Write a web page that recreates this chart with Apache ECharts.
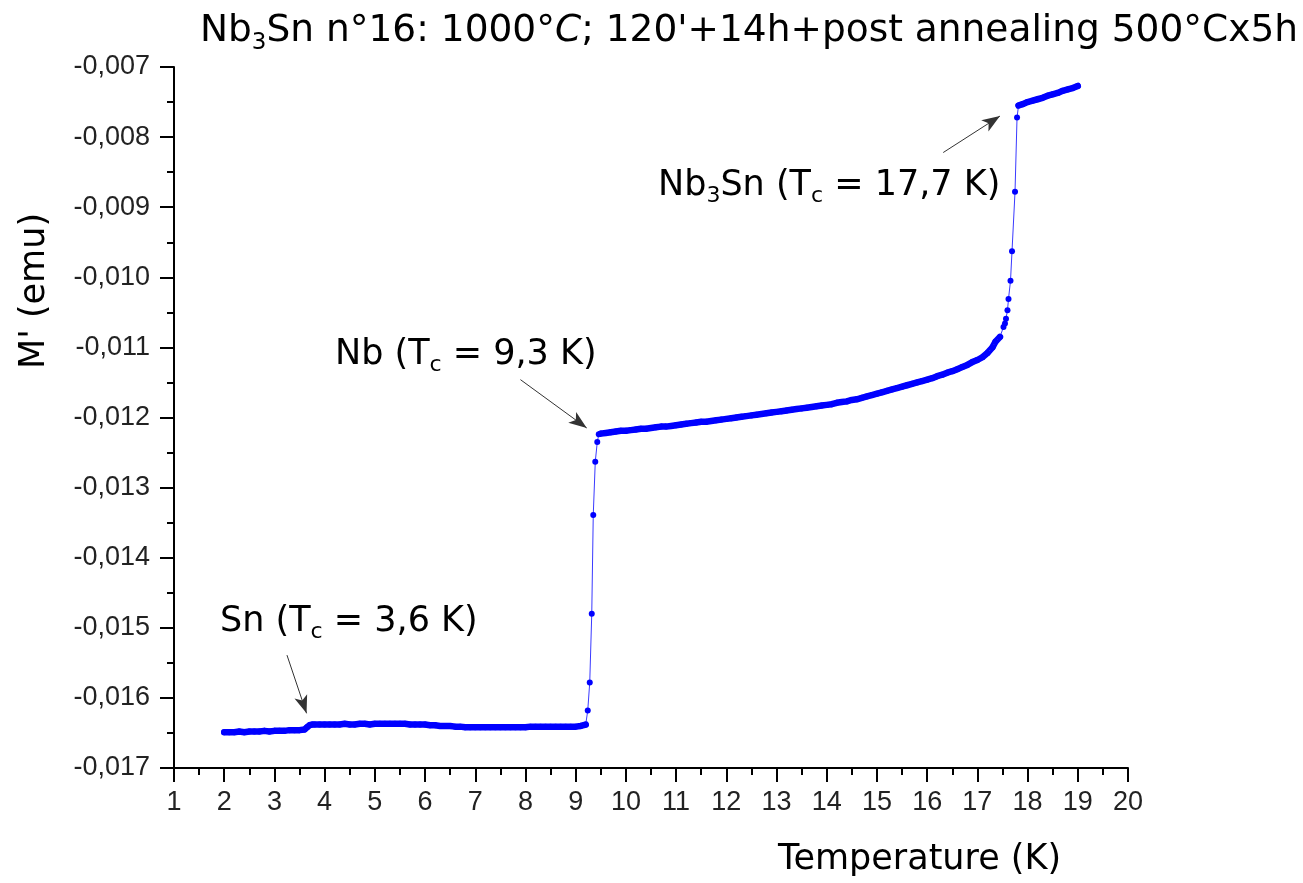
<!DOCTYPE html>
<html>
<head>
<meta charset="utf-8">
<script src="https://cdn.jsdelivr.net/npm/echarts@6/dist/echarts.min.js"></script>
<style>
html,body{margin:0;padding:0;background:#fff;}
#chart{width:1303px;height:883px;}
</style>
</head>
<body>
<div id="chart"></div>
<script>
// ---- data (Temperature K, M' emu) ----
const snPlateau = [
  [2.0,-0.01649],[2.1,-0.01649],[2.2,-0.01649],[2.3,-0.01648],[2.4,-0.01649],[2.5,-0.01648],
  [2.6,-0.01648],[2.7,-0.01648],[2.8,-0.01647],[2.9,-0.01648],[3.0,-0.01647],[3.1,-0.01647],
  [3.2,-0.01647],[3.3,-0.01646],[3.4,-0.01646],[3.5,-0.01646],[3.6,-0.01645],[3.65,-0.01642],
  [3.7,-0.01639],[3.75,-0.01638]
];
const lowPlateau = [
  [3.8,-0.01638],[3.9,-0.01638],[4.0,-0.01638],[4.1,-0.01638],[4.2,-0.01638],[4.3,-0.01638],
  [4.4,-0.01637],[4.5,-0.01638],[4.6,-0.01638],[4.7,-0.01637],[4.8,-0.01637],[4.9,-0.01638],
  [5.0,-0.01637],[5.1,-0.01637],[5.2,-0.01637],[5.3,-0.01637],[5.4,-0.01637],[5.5,-0.01637],
  [5.6,-0.01637],[5.7,-0.01638],[5.8,-0.01638],[5.9,-0.01638],[6.0,-0.01638],[6.1,-0.01639],
  [6.2,-0.01639],[6.3,-0.01640],[6.4,-0.01640],[6.5,-0.01640],[6.6,-0.01641],[6.7,-0.01641],
  [6.8,-0.01642],[6.9,-0.01642],[7.0,-0.01642],[7.1,-0.01642],[7.2,-0.01642],[7.3,-0.01642],
  [7.4,-0.01642],[7.5,-0.01642],[7.6,-0.01642],[7.7,-0.01642],[7.8,-0.01642],[7.9,-0.01642],
  [8.0,-0.01642],[8.1,-0.01641],[8.2,-0.01641],[8.3,-0.01641],[8.4,-0.01641],[8.5,-0.01641],
  [8.6,-0.01641],[8.7,-0.01641],[8.8,-0.01641],[8.9,-0.01641],[9.0,-0.01641],[9.1,-0.01640],
  [9.2,-0.01638]
];
const nbTransition = [
  [9.24,-0.01618],[9.28,-0.01578],[9.32,-0.01480],[9.35,-0.01339],[9.39,-0.01263],
  [9.43,-0.01235],[9.46,-0.01224]
];
const midPlateau = [
  [9.5,-0.01223],[9.6,-0.01222],[9.7,-0.01221],[9.8,-0.01220],[9.9,-0.01219],[10.0,-0.01219],
  [10.1,-0.01218],[10.2,-0.01217],[10.3,-0.01216],[10.4,-0.01216],[10.5,-0.01215],[10.6,-0.01214],
  [10.7,-0.01213],[10.8,-0.01213],[10.9,-0.01212],[11.0,-0.01211],[11.1,-0.01210],[11.2,-0.01209],
  [11.3,-0.01208],[11.4,-0.01207],[11.5,-0.01206],[11.6,-0.01206],[11.7,-0.01205],[11.8,-0.01204],
  [11.9,-0.01203],[12.0,-0.01202],[12.1,-0.01201],[12.2,-0.01200],[12.3,-0.01199],[12.4,-0.01198],
  [12.5,-0.01197],[12.6,-0.01196],[12.7,-0.01195],[12.8,-0.01194],[12.9,-0.01193],[13.0,-0.01192],
  [13.1,-0.01191],[13.2,-0.01190],[13.3,-0.01189],[13.4,-0.01188],[13.5,-0.01187],[13.6,-0.01186],
  [13.7,-0.01185],[13.8,-0.01184],[13.9,-0.01183],[14.0,-0.01182],[14.1,-0.01181],[14.2,-0.01179],
  [14.3,-0.01178],[14.4,-0.01177],[14.5,-0.01175],[14.6,-0.01174],[14.7,-0.01172],[14.8,-0.01170],
  [14.9,-0.01168],[15.0,-0.01166],[15.1,-0.01164],[15.2,-0.01162],[15.3,-0.01160],[15.4,-0.01158],
  [15.5,-0.01156],[15.6,-0.01154],[15.7,-0.01152],[15.8,-0.01150],[15.9,-0.01148],[16.0,-0.01146],
  [16.1,-0.01144],[16.2,-0.01141],[16.3,-0.01139],[16.4,-0.01136],[16.5,-0.01134],[16.6,-0.01131],
  [16.7,-0.01128],[16.8,-0.01125],[16.9,-0.01121],[17.0,-0.01118],[17.1,-0.01114],[17.2,-0.01108],
  [17.3,-0.01100]
];
const nb3snTransition = [
  [17.36,-0.01092],[17.45,-0.01085],[17.52,-0.01071],[17.55,-0.01066],[17.57,-0.01059],
  [17.60,-0.01047],[17.62,-0.01031],[17.66,-0.01005],[17.69,-0.00963],[17.75,-0.00878],
  [17.79,-0.00772],[17.82,-0.00755]
];
const normalState = [
  [17.9,-0.00753],[18.0,-0.00750],[18.1,-0.00748],[18.2,-0.00746],[18.3,-0.00744],[18.4,-0.00741],
  [18.5,-0.00739],[18.6,-0.00737],[18.7,-0.00734],[18.8,-0.00732],[18.9,-0.00730],[19.0,-0.00727]
];
// annotation arrows: [start, tip] in data coordinates
const arrowSn = [[3.25,-0.01539],[3.64,-0.01622]];
const arrowNb = [[7.90,-0.01146],[9.22,-0.01215]];
const arrowNb3Sn = [[16.32,-0.00822],[17.45,-0.00770]];
const xTicks = {min:1, max:20, step:1};
const yTicks = {min:-0.017, max:-0.007, step:0.001};

const allData = [].concat(snPlateau, lowPlateau, nbTransition, midPlateau, nb3snTransition, normalState);
const bandSegments = [
  [].concat(snPlateau, lowPlateau, [[9.2,-0.01638]]),
  midPlateau.concat([[17.36,-0.01092],[17.45,-0.01085]]),
  [[17.82,-0.00755]].concat(normalState)
];

const chart = echarts.init(document.getElementById('chart'), null, {renderer:'canvas'});
const comic = 'DejaVu Sans';
const annFont = 35;
function richBase(size){
  const lh = Math.round(size*1.25);
  return {
    a:{fontFamily:comic,fontSize:size,color:'#000',lineHeight:lh},
    i:{fontFamily:comic,fontSize:size,color:'#000',lineHeight:lh,fontStyle:'italic'},
    sub:{fontFamily:comic,fontSize:Math.round(size*0.62),color:'#000',lineHeight:Math.round(size*0.6),verticalAlign:'bottom'}
  };
}
function arrowLine(a){
  return [{coord:a[0]},{coord:a[1]}];
}
const bandSeries = bandSegments.map(seg => ({
  type:'line', data:seg, showSymbol:false, symbol:'none', silent:true,
  lineStyle:{color:'#0000ff',width:6.5,cap:'round',join:'round'}, z:2
}));
const option = {
  animation:false,
  backgroundColor:'#fff',
  grid:{left:174,right:175,top:67,bottom:115,containLabel:false},
  xAxis:{
    type:'value', min:xTicks.min, max:xTicks.max, interval:xTicks.step,
    axisLine:{show:true,onZero:false,lineStyle:{color:'#000',width:2}},
    axisTick:{show:true,inside:false,length:14,lineStyle:{color:'#000',width:2}},
    minorTick:{show:true,splitNumber:2,length:7,lineStyle:{color:'#000',width:2}},
    splitLine:{show:false},
    axisLabel:{fontFamily:'Liberation Sans',fontSize:27,color:'#222',margin:21,
      formatter:v=>String(Math.round(v))}
  },
  yAxis:{
    type:'value', min:yTicks.min, max:yTicks.max, interval:yTicks.step,
    axisLine:{show:true,onZero:false,lineStyle:{color:'#000',width:2}},
    axisTick:{show:true,inside:false,length:14,lineStyle:{color:'#000',width:2}},
    minorTick:{show:true,splitNumber:2,length:7,lineStyle:{color:'#000',width:2}},
    splitLine:{show:false},
    axisLabel:{fontFamily:'Liberation Sans',fontSize:27,color:'#222',margin:24,
      formatter:v=>v.toFixed(3).replace('.',',')}
  },
  series:[{
    type:'line',
    data:allData,
    symbol:'circle', symbolSize:6, showSymbol:true,
    itemStyle:{color:'#0000ff'},
    lineStyle:{color:'#3a3aff',width:1},
    z:3,
    markLine:{
      silent:true,
      symbol:['none','arrow'],
      symbolSize:[10,18],
      label:{show:false},
      lineStyle:{color:'#333',width:1,type:'solid'},
      data:[arrowLine(arrowSn),arrowLine(arrowNb),arrowLine(arrowNb3Sn)]
    }
  }].concat(bandSeries),
  graphic:[
    {type:'text',left:200,top:12,style:{
      text:'{a|Nb}{sub|3}{a|Sn n°16: 1000°}{i|C}{a|; 120\'+14h+post annealing 500°Cx5h}',
      rich:richBase(37.5)}},
    {type:'text',left:658,top:168,style:{
      text:'{a|Nb}{sub|3}{a|Sn (T}{sub|c}{a| = 17,7 K)}', rich:richBase(annFont)}},
    {type:'text',left:335,top:337,style:{
      text:'{a|Nb (T}{sub|c}{a| = 9,3 K)}', rich:richBase(annFont)}},
    {type:'text',left:220,top:604,style:{
      text:'{a|Sn (T}{sub|c}{a| = 3,6 K)}', rich:richBase(annFont)}},
    {type:'text',left:778,top:842,style:{
      text:'Temperature (K)',fontFamily:comic,fontSize:annFont,fill:'#000'}},
    {type:'text',x:35,y:291,rotation:Math.PI/2,style:{
      text:"M' (emu)",fontFamily:comic,fontSize:annFont,fill:'#000',align:'center',verticalAlign:'middle'}}
  ]
};
chart.setOption(option);
</script>
</body>
</html>
